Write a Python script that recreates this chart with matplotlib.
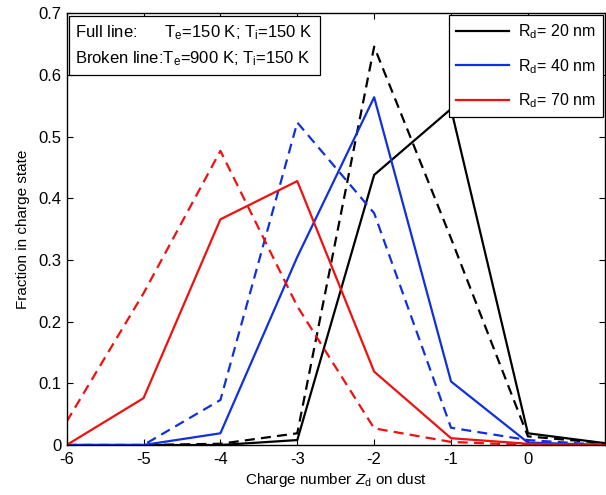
import matplotlib
matplotlib.use('Agg')
import matplotlib.pyplot as plt

plt.rcParams['font.family'] = 'Liberation Sans'
plt.rcParams['mathtext.fontset'] = 'custom'
plt.rcParams['mathtext.rm'] = 'Liberation Sans'
plt.rcParams['mathtext.it'] = 'Liberation Sans:italic'
plt.rcParams['axes.unicode_minus'] = False
plt.rcParams['font.size'] = 11

# charge number on dust
z = [-6, -5, -4, -3, -2, -1, 0, 1]

# full line: Te = 150 K, Ti = 150 K
r20_full = [0.0, 0.0, 0.0, 0.008, 0.438, 0.545, 0.019, 0.003]
r40_full = [0.0, 0.0, 0.019, 0.305, 0.564, 0.103, 0.004, 0.0]
r70_full = [0.0, 0.076, 0.366, 0.428, 0.119, 0.011, 0.002, 0.0]

# broken line: Te = 900 K, Ti = 150 K
r20_broken = [0.0, 0.0, 0.002, 0.019, 0.646, 0.335, 0.014, 0.003]
r40_broken = [0.0, 0.0, 0.073, 0.523, 0.376, 0.028, 0.008, 0.0]
r70_broken = [0.038, 0.246, 0.477, 0.225, 0.027, 0.005, 0.0, 0.0]

labels = [r'R$_\mathrm{d}$= 20 nm', r'R$_\mathrm{d}$= 40 nm', r'R$_\mathrm{d}$= 70 nm']
colors = ['black', '#1030e0', '#f01010']

fig = plt.figure(figsize=(6.06, 4.95), dpi=100)
ax = fig.add_axes([0.110, 0.101, 0.888, 0.872])

dash = (0, (4.5, 2.8))
full = [r20_full, r40_full, r70_full]
broken = [r20_broken, r40_broken, r70_broken]
handles = []
for f, b, c, lab in zip(full, broken, colors, labels):
    h, = ax.plot(z, f, color=c, lw=1.6, label=lab)
    ax.plot(z, b, color=c, lw=1.6, linestyle=dash)
    handles.append(h)

ax.set_xlim(-6, 1)
ax.set_ylim(0, 0.7)
ax.set_xticks(range(-6, 1))
ax.set_yticks([0, 0.1, 0.2, 0.3, 0.4, 0.5, 0.6, 0.7])
ax.set_yticklabels(['0', '0.1', '0.2', '0.3', '0.4', '0.5', '0.6', '0.7'])
ax.tick_params(direction='in', top=True, right=True, length=4, width=0.8,
               labelsize=12)
ax.tick_params(axis='x', pad=5)
for s in ax.spines.values():
    s.set_linewidth(1.0)

ax.set_xlabel(r'Charge number $Z_\mathrm{d}$ on dust', fontsize=11, labelpad=3)
ax.set_ylabel('Fraction in charge state', fontsize=11, labelpad=6)

leg = ax.legend(handles=handles, loc='upper right', handlelength=3.3,
                fancybox=False, edgecolor='black', framealpha=1,
                borderaxespad=0.1, labelspacing=1.0, borderpad=0.45,
                handletextpad=0.6, fontsize=11.5)
leg.get_frame().set_linewidth(0.9)

note = ('Full line:      T$_\\mathrm{e}$=150 K; T$_\\mathrm{i}$=150 K\n'
        'Broken line:T$_\\mathrm{e}$=900 K; T$_\\mathrm{i}$=150 K')
ax.text(0.016, 0.978, note, transform=ax.transAxes, ha='left', va='top',
        fontsize=12, linespacing=1.55,
        bbox=dict(boxstyle='square,pad=0.4', facecolor='white',
                  edgecolor='black', linewidth=0.9))

fig.savefig('out.png', dpi=100)
